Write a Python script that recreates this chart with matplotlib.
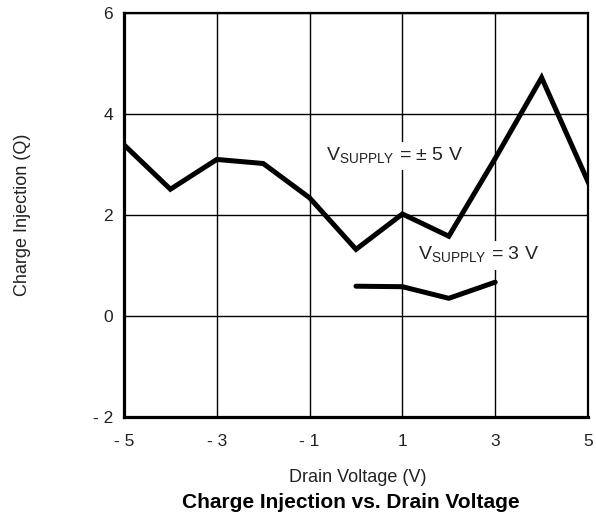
import matplotlib
matplotlib.use('Agg')
import matplotlib.pyplot as plt

plt.rcParams['font.family'] = ['Liberation Sans', 'DejaVu Sans']

# data
drain_v = [-5, -4, -3, -2, -1, 0, 1, 2, 3, 4, 5]
q_5v = [3.39, 2.51, 3.1, 3.02, 2.34, 1.32, 2.02, 1.58, 3.12, 4.72, 2.66]
drain_v_3v = [0, 1, 2, 3]
q_3v = [0.59, 0.58, 0.35, 0.67]

x_ticks = [-5, -3, -1, 1, 3, 5]
y_ticks = [-2, 0, 2, 4, 6]

fig = plt.figure(figsize=(5.96, 5.12), dpi=100)
ax = fig.add_axes([124 / 596, 1 - 417 / 512, 464 / 596, 404 / 512])

ax.plot(drain_v, q_5v, color='black', lw=3.6, solid_joinstyle='miter', zorder=3)
ax.plot(drain_v_3v, q_3v, color='black', lw=3.6, solid_capstyle='round', zorder=3)

ax.set_xlim(-5, 5)
ax.set_ylim(-2, 6)
ax.set_xticks(x_ticks)
ax.set_yticks(y_ticks)
ax.set_xticklabels([f'- {abs(v)}' if v < 0 else str(v) for v in x_ticks], fontsize=12.5)
ax.set_yticklabels([f'- {abs(v)}' if v < 0 else str(v) for v in y_ticks], fontsize=12.5)
ax.tick_params(axis='x', length=0, pad=12, colors='#222222')
ax.tick_params(axis='y', length=0, pad=8, colors='#222222')
ax.grid(True, color='black', lw=1)
ax.set_axisbelow(True)
for side in ['left', 'bottom']:
    ax.spines[side].set_linewidth(2.3)
for side in ['top', 'right']:
    ax.spines[side].set_linewidth(1.6)

bbox = dict(facecolor='white', edgecolor='none', pad=3)
ax.text(0.84, 3.07, r'V$_{\mathregular{SUPPLY}}$ = ± 5 V', fontsize=14, color='#222222',
        ha='center', va='baseline', bbox=bbox, zorder=4)
ax.text(2.65, 1.105, r'V$_{\mathregular{SUPPLY}}$ = 3 V', fontsize=14, color='#222222',
        ha='center', va='baseline', bbox=bbox, zorder=4)

fig.text(23 / 596, 1 - 215 / 512, 'Charge Injection (Q)', rotation=90, fontsize=13,
         color='#222222', ha='center', va='center')
fig.text(358 / 596, 1 - 482 / 512, 'Drain Voltage (V)', fontsize=13,
         color='#222222', ha='center', va='baseline')
fig.text(351 / 596, 1 - 508 / 512, 'Charge Injection vs. Drain Voltage', fontsize=15,
         fontweight='bold', color='black', ha='center', va='baseline')

fig.savefig('out.png', dpi=100)
